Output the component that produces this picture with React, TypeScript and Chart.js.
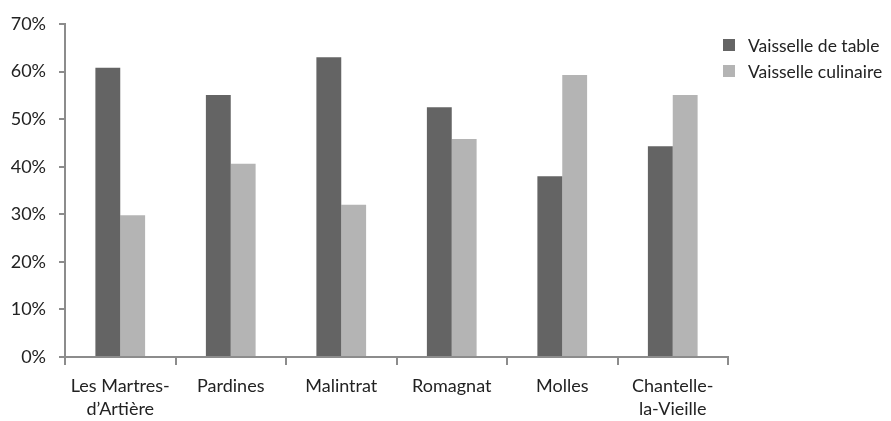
import React, { useEffect, useRef } from "react";
import { Chart, registerables } from "chart.js";

Chart.register(...registerables);

const categories: (string | string[])[] = [
  ["Les Martres-", "d’Artière"],
  "Pardines",
  "Malintrat",
  "Romagnat",
  "Molles",
  ["Chantelle-", "la-Vieille"],
];
const vaisselleTable = [60.8, 55.1, 63.0, 52.5, 38.0, 44.3];
const vaisselleCulinaire = [29.8, 40.6, 32.0, 45.8, 59.3, 55.1];
const yTicks = [0, 10, 20, 30, 40, 50, 60, 70];

const FONT = "Lato, 'Open Sans', sans-serif";

const customLegend = {
  id: "customLegend",
  afterDraw(chart: any) {
    const ctx = chart.ctx;
    ctx.save();
    ctx.font = `17.5px ${FONT}`;
    ctx.textBaseline = "middle";
    ctx.textAlign = "left";
    chart.data.datasets.forEach((ds: any, i: number) => {
      const cy = 45 + i * 26;
      ctx.fillStyle = ds.backgroundColor;
      ctx.fillRect(723, cy - 6, 12, 12);
      ctx.fillStyle = "#222";
      ctx.fillText(ds.label, 748, cy + 1);
    });
    ctx.restore();
  },
};

export default function App() {
  const ref = useRef<HTMLCanvasElement>(null);
  useEffect(() => {
    document.body.style.margin = "0";
    const chart = new Chart(ref.current!, {
      type: "bar",
      data: {
        labels: categories,
        datasets: [
          {
            label: "Vaisselle de table",
            data: vaisselleTable,
            backgroundColor: "#646464",
          },
          {
            label: "Vaisselle culinaire",
            data: vaisselleCulinaire,
            backgroundColor: "#b4b4b4",
          },
        ],
      },
      options: {
        responsive: false,
        animation: false,
        layout: { padding: { top: 24, right: 163, left: 0, bottom: 0 } },
        datasets: { bar: { categoryPercentage: 0.45, barPercentage: 1.0 } },
        plugins: {
          legend: { display: false },
          tooltip: { enabled: false },
        },
        scales: {
          x: {
            offset: true,
            grid: {
              offset: true,
              drawOnChartArea: false,
              drawTicks: true,
              tickLength: 8,
              color: "#8c8c8c",
              lineWidth: 2,
            },
            border: { color: "#8c8c8c", width: 2 },
            ticks: {
              color: "#222",
              font: { family: FONT, size: 18, lineHeight: 1.3 },
              padding: 9,
              maxRotation: 0,
              autoSkip: false,
            },
            afterFit: (s: any) => {
              s.height = 64;
            },
          },
          y: {
            min: 0,
            max: 70,
            afterBuildTicks: (s: any) => {
              s.ticks = yTicks.map((v) => ({ value: v }));
            },
            grid: {
              drawOnChartArea: false,
              drawTicks: true,
              tickLength: 6,
              color: "#8c8c8c",
              lineWidth: 2,
            },
            border: { color: "#8c8c8c", width: 2 },
            ticks: {
              color: "#222",
              font: { family: FONT, size: 18 },
              padding: 13,
              callback: (v: any) => `${v}%`,
            },
            afterFit: (s: any) => {
              s.width = 65;
            },
          },
        },
      },
      plugins: [customLegend],
    });
    return () => chart.destroy();
  }, []);
  return (
    <div style={{ width: 891, height: 421, background: "#fff" }}>
      <canvas ref={ref} width={891} height={421} />
    </div>
  );
}
